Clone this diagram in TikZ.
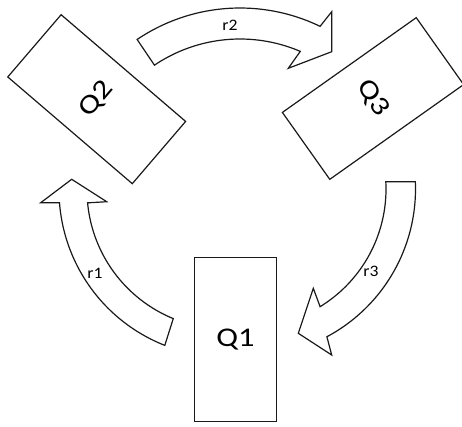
\documentclass[tikz,border=0pt]{standalone}
\usepackage{fontspec}
\setmainfont{Carlito}[Numbers=Lining]
\newfontfamily\qfont{Carlito}[FakeStretch=1.2,Numbers=Lining]
\newfontfamily\rfont{Carlito}[FakeStretch=1.1,Numbers=Lining]
\begin{document}
\begin{tikzpicture}[x=1pt,y=-1pt,
  qbox/.style={draw=black!90, line width=1.2pt, fill=white, rectangle,
    minimum width=82pt, minimum height=164pt, inner sep=0pt,
    font=\qfont\fontsize{27}{30}\selectfont},
  bigarrow/.style={draw=black!90, line width=1.2pt, fill=white, line join=miter},
  rlabel/.style={inner sep=0pt, font=\rfont\fontsize{16}{18}\selectfont}]
\useasboundingbox (0,0) rectangle (462,426);
\fill[white] (0,0) rectangle (462,426);

% boxes
\node[qbox] (q1) at (235.5,339.5) {Q1};
\node[qbox, rotate=49.4] (q2) at (96.7,99.2) {Q2};
\node[qbox, rotate=-54.7] (q3) at (373,98.5) {Q3};

% r2 arrow (top)
\draw[bigarrow]
  plot[domain=-124:-64.2, samples=50] ({240+184*cos(\x)},{192+184*sin(\x)})
  -- (331.7,11.7) -- (331.7,51.7) -- (288.3,68.3)
  -- plot[domain=-66.8:-124, samples=50] ({240+153*cos(\x)},{192+153*sin(\x)})
  -- cycle;

% r1 arrow (left)
\draw[bigarrow]
  plot[domain=111.5:175.6, samples=50] ({226+167*cos(\x)},{190+167*sin(\x)})
  -- (40.7,202.7) -- (71.7,179.3) -- (106.7,201.7)
  -- plot[domain=174.7:112.3, samples=50] ({226+139*cos(\x)},{190+139*sin(\x)})
  -- cycle;

% r3 arrow (right)
\draw[bigarrow]
  plot[domain=-2.5:61.9, samples=50] ({248+167.5*cos(\x)},{189+167.5*sin(\x)})
  -- (331.7,355) -- (298.3,333.3) -- (313.3,288.3)
  -- plot[domain=58.5:-3.03, samples=50] ({248+138*cos(\x)},{189+138*sin(\x)})
  -- cycle;

% labels
\node[rlabel] (l2) at (230,25) {r2};
\node[rlabel] (l1) at (95,273) {r1};
\node[rlabel] (l3) at (371,271) {r3};
\end{tikzpicture}
\end{document}
